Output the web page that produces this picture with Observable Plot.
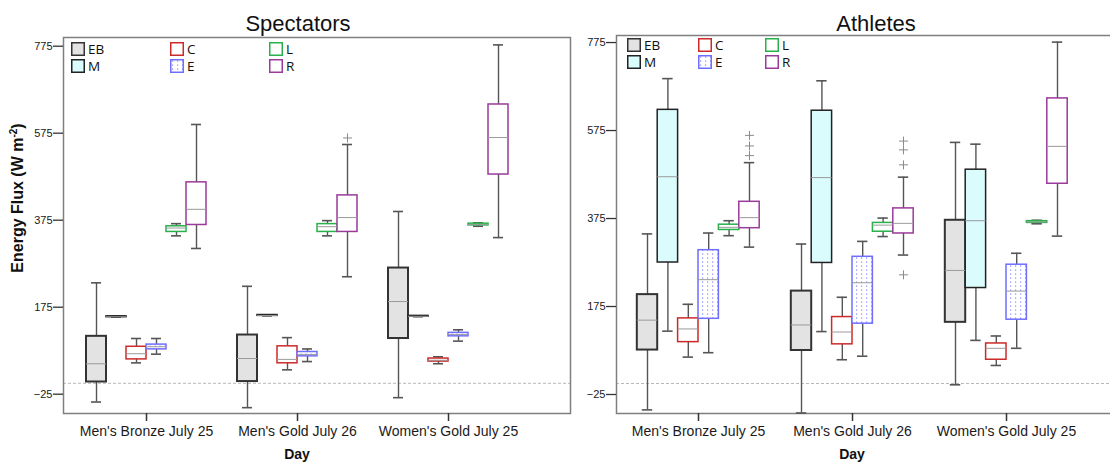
<!DOCTYPE html>
<html>
<head>
<meta charset="utf-8">
<script src="https://cdn.jsdelivr.net/npm/d3@7"></script>
<script src="https://cdn.jsdelivr.net/npm/@observablehq/plot@0.6"></script>
<style>
  html, body { margin: 0; padding: 0; background: #fff; overflow: hidden; }
  #wrap { position: relative; width: 1110px; height: 463px; overflow: hidden; font-family: "Liberation Sans", Arial, sans-serif; color: #111; }
  .panel { position: absolute; top: 0; height: 463px; }
  .panel > svg { position: absolute; left: 0; top: 0; max-width: none !important; }
  .title { position: absolute; top: 13px; font-size: 22px; line-height: 22px; white-space: nowrap; transform: translateX(-50%); }
  .xlabel { position: absolute; top: 447px; font-size: 14px; line-height: 14px; font-weight: bold; white-space: nowrap; transform: translateX(-50%); }
  .ylabel { position: absolute; font-size: 16px; line-height: 16px; font-weight: bold; white-space: nowrap; transform: translate(-50%, -50%) rotate(-90deg); }
  .ylabel sup { font-size: 10px; line-height: 0; }
  .leg { position: absolute; display: flex; align-items: center; gap: 3px; height: 14px; font-family: "Open Sans", "Noto Sans", sans-serif; font-size: 13.5px; line-height: 14px; color: #111; }
  .leg svg { display: block; }
  .leg span { display: block; height: 14px; line-height: 14px; }
</style>
</head>
<body>
<svg width="0" height="0" style="position:absolute">
  <defs>
    <pattern id="dotsE" width="5" height="4" patternUnits="userSpaceOnUse">
      <rect width="5" height="4" fill="#ffffff"></rect>
      <rect x="2" y="1.5" width="1.2" height="1.2" fill="#8585ff"></rect>
    </pattern>
  </defs>
</svg>
<div id="wrap">
  <div class="panel" id="left" style="left:0;width:575px"></div>
  <div class="panel" id="right" style="left:575px;width:560px"></div>
  <div class="title" style="left:298px">Spectators</div>
  <div class="title" style="left:876px">Athletes</div>
  <div class="xlabel" style="left:297px">Day</div>
  <div class="xlabel" style="left:852px">Day</div>
  <div class="ylabel" style="left:18px;top:198px">Energy Flux (W m<sup>-2</sup>)</div>
</div>
<script>
// ---------------- data ----------------
const days = ["Men's Bronze July 25", "Men's Gold July 26", "Women's Gold July 25"];
const groups = ["EB", "M", "C", "E", "L", "R"];
const yTicks = [-25, 175, 375, 575, 775];

// Spectators: five-number summaries, day by day, groups in order EB, M, C, E, L, R
const specMin = [-43, 152, 47, 67, 339, 310,   -56, 155, 31, 50, 339, 245,   -33, 153, 45, 97, 361, 335];
const specQ1  = [3, 152, 55, 78, 348, 364,     4, 155, 46, 62, 348, 348,     103, 153, 50, 108, 363, 480];
const specMed = [45, 153, 68, 84, 357, 400,    57, 156, 55, 66, 360, 381,    188, 154, 53, 112, 365, 565];
const specQ3  = [108, 154, 84, 89, 361, 462,   111, 157, 85, 72, 366, 432,   265, 155, 57, 116, 367, 641];
const specMax = [231, 154, 103, 103, 367, 595, 223, 157, 105, 79, 374, 549,  395, 155, 61, 123, 369, 778];
const specOutDay   = ["Men's Gold July 26"];
const specOutGroup = ["R"];
const specOutValue = [564];

// Athletes
const athMin = [-60, 119, 60, 70, 336, 310,    -67, 118, 54, 62, 334, 292,   -3, 98, 41, 80, 363, 335];
const athQ1  = [76, 275, 94, 147, 349, 353,    75, 274, 89, 136, 345, 341,   139, 217, 54, 145, 365, 454];
const athMed = [144, 470, 124, 236, 355, 377,  133, 468, 117, 229, 360, 364, 257, 370, 80, 210, 367, 539];
const athQ3  = [202, 622, 148, 303, 361, 413,  210, 620, 151, 288, 365, 398, 371, 486, 91, 270, 369, 648];
const athMax = [340, 693, 180, 342, 370, 502,  317, 688, 196, 323, 376, 469, 548, 544, 108, 296, 371, 776];
const athOutDay   = ["Men's Bronze July 25", "Men's Bronze July 25", "Men's Bronze July 25",
                     "Men's Gold July 26", "Men's Gold July 26", "Men's Gold July 26", "Men's Gold July 26"];
const athOutGroup = ["R", "R", "R", "R", "R", "R", "R"];
const athOutValue = [518, 540, 564, 497, 531, 551, 247];

// ---------------- styles ----------------
const groupStyle = {
  EB: {fill: "#e3e3e3", stroke: "#333333", sw: 2},
  M:  {fill: "#dafcfc", stroke: "#222222", sw: 1.5},
  C:  {fill: "#ffffff", stroke: "#cc2a2a", sw: 1.5},
  E:  {fill: "url(#dotsE)", stroke: "#6f6fff", sw: 1.5},
  L:  {fill: "#ffffff", stroke: "#28b04a", sw: 1.5},
  R:  {fill: "#ffffff", stroke: "#9a3a9a", sw: 1.5}
};

function table(mins, q1s, meds, q3s, maxs) {
  return mins.map((m, i) => ({
    day: days[Math.floor(i / groups.length)], group: groups[i % groups.length],
    min: m, q1: q1s[i], med: meds[i], q3: q3s[i], max: maxs[i]
  }));
}
function outTable(ds, gs, vs) {
  return vs.map((v, i) => ({day: ds[i], group: gs[i], value: v}));
}

const baseStyle = {fontFamily: "'Liberation Sans', Arial, sans-serif", color: "#1a1a1a", background: "transparent", maxWidth: "none"};

function makePanel(cfg) {
  const dims = {width: cfg.width, height: 463, marginLeft: cfg.marginLeft, marginRight: cfg.marginRight, marginTop: cfg.marginTop, marginBottom: 50};
  // background layer: zero reference line, frame and y axis
  const base = Plot.plot({
    ...dims,
    y: {domain: cfg.yDomain},
    style: baseStyle,
    marks: [
      Plot.ruleY([0], {stroke: "#b8b8b8", strokeWidth: 1, strokeDasharray: "3,2"}),
      Plot.frame({stroke: "#7f7f7f", strokeWidth: 1.5}),
      Plot.axisY({ticks: yTicks, tickSize: 10, tickPadding: 1, fontSize: 11, label: null, stroke: "#333", strokeWidth: 1.3})
    ]
  });
  // box layer: faceted by day, one band per group
  const rows = cfg.rows;
  const marks = [
    Plot.ruleX(rows, {fx: "day", x: "group", y1: "min", y2: "max", stroke: "#555", strokeWidth: 1.4}),
    Plot.tickY(rows, {fx: "day", x: "group", y: "min", stroke: "#555", strokeWidth: 1.6, insetLeft: 5, insetRight: 5}),
    Plot.tickY(rows, {fx: "day", x: "group", y: "max", stroke: "#555", strokeWidth: 1.6, insetLeft: 5, insetRight: 5})
  ];
  for (const g of groups) {
    const st = groupStyle[g];
    marks.push(Plot.barY(rows.filter(d => d.group === g), {
      fx: "day", x: "group", y1: "q1", y2: "q3",
      fill: st.fill, stroke: st.stroke, strokeWidth: st.sw, insetLeft: 0, insetRight: 0
    }));
  }
  marks.push(Plot.tickY(rows, {fx: "day", x: "group", y: "med", stroke: "#9a9a9a", strokeWidth: 1}));
  marks.push(Plot.dot(cfg.outliers, {fx: "day", x: "group", y: "value", symbol: "plus", r: 3, stroke: "#8a8a8a", strokeWidth: 1, fill: "none"}));
  marks.push(Plot.axisFx({anchor: "bottom", tickSize: 8, tickPadding: 5, fontSize: 14, label: null, stroke: "#333", strokeWidth: 1.5}));
  const boxes = Plot.plot({
    ...dims,
    x: {domain: groups, axis: null, paddingInner: 0, paddingOuter: 0.775, round: false},
    fx: {domain: days, paddingInner: 0, paddingOuter: cfg.fxPad, align: cfg.fxAlign, round: false},
    y: {domain: cfg.yDomain, axis: null},
    style: baseStyle,
    marks
  });
  return [base, boxes];
}

function addLegend(container, xs, ys) {
  const order = [["EB", "C", "L"], ["M", "E", "R"]];
  order.forEach((row, r) => row.forEach((g, c) => {
    const st = groupStyle[g];
    const div = document.createElement("div");
    div.className = "leg";
    div.style.left = xs[c] + "px";
    div.style.top = ys[r] + "px";
    div.innerHTML = `<svg width="14" height="14"><rect x="0.75" y="0.75" width="12.5" height="12.5" fill="${st.fill}" stroke="${st.stroke}" stroke-width="1.5"></rect></svg><span>${g}</span>`;
    container.appendChild(div);
  }));
}

try {
  const leftEl = document.getElementById("left");
  makePanel({
    rows: table(specMin, specQ1, specMed, specQ3, specMax),
    outliers: outTable(specOutDay, specOutGroup, specOutValue),
    width: 575, marginLeft: 63, marginRight: 5, marginTop: 37,
    fxPad: 0.1788, fxAlign: 0.139, yDomain: [-69.4, 795]
  }).forEach(s => leftEl.appendChild(s));
  const rightEl = document.getElementById("right");
  makePanel({
    rows: table(athMin, athQ1, athMed, athQ3, athMax),
    outliers: outTable(athOutDay, athOutGroup, athOutValue),
    width: 560, marginLeft: 41, marginRight: 7, marginTop: 35,
    fxPad: 0.1623, fxAlign: 0.1, yDomain: [-68.2, 791]
  }).forEach(s => rightEl.appendChild(s));
  const wrap = document.getElementById("wrap");
  addLegend(wrap, [71, 170, 269], [42, 59]);
  addLegend(wrap, [627, 698, 765], [38, 55]);
} catch (e) {
  document.body.insertAdjacentHTML("beforeend", `<pre style="position:absolute;top:0;left:0;color:red">${e.stack}</pre>`);
}
</script>
</body>
</html>
